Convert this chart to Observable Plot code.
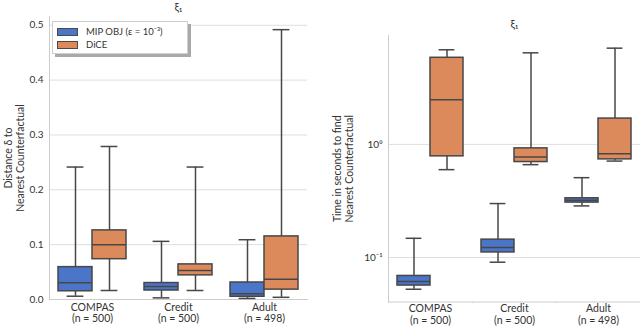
<!DOCTYPE html>
<html><head><meta charset="utf-8">
<script src="https://cdn.jsdelivr.net/npm/d3@7"></script>
<script src="https://cdn.jsdelivr.net/npm/@observablehq/plot@0.6"></script>
<style>
body{margin:0;background:#fff;}
#wrap{position:relative;width:640px;height:327px;font-family:Lato,"DejaVu Sans",sans-serif;overflow:hidden;}
.panel{position:absolute;top:0;}
#legend{position:absolute;left:52px;top:21px;width:134px;height:31px;background:#fff;border:1px solid #cfcfcf;box-shadow:3px 3px 0 #a9a9a9;font-size:9.5px;color:#333;}
#legend .row{position:absolute;left:4px;height:9px;display:flex;align-items:center;}
#legend .sw{width:19px;height:6px;border:1px solid #4a4a4a;margin-right:8px;}
</style></head><body>
<div id="wrap">
  <div id="left" class="panel" style="left:0"></div>
  <div id="right" class="panel" style="left:320px"></div>
  <div id="legend"></div>
</div>
<script>
// ---- data ----
const datasets = ["COMPAS", "Credit", "Adult"];
const nLabels = ["(n = 500)", "(n = 500)", "(n = 498)"];
const methods = ["MIP OBJ", "DiCE"];
const legendLabels = ["MIP OBJ (ε = 10⁻³)", "DiCE"];
const colors = ["#4a75c8", "#dc8a5b"];
const titles = ["ξ₁", "ξ₁"];
const yLabels = ["Distance δ to\nNearest Counterfactual", "Time in seconds to find\nNearest Counterfactual"];
const distTicks = [0, 0.1, 0.2, 0.3, 0.4, 0.5];
const timeTicks = [0.1, 1];
const timeTickLabels = ["10⁻¹", "10⁰"];

// box stats: [lower whisker, Q1, median, Q3, upper whisker], per dataset
const distMIP  = [[0.006, 0.015, 0.0305, 0.059, 0.2415], [0.003, 0.0164, 0.0237, 0.030, 0.106], [0.002, 0.005, 0.0104, 0.031, 0.109]];
const distDiCE = [[0.0164, 0.0735, 0.100, 0.126, 0.279], [0.0164, 0.044, 0.053, 0.064, 0.2415], [0.004, 0.018, 0.037, 0.115, 0.492]];
const timeMIP  = [[0.0525, 0.0566, 0.0614, 0.0688, 0.148], [0.091, 0.111, 0.1226, 0.144, 0.300], [0.286, 0.306, 0.321, 0.334, 0.508]];
const timeDiCE = [[0.598, 0.784, 2.48, 5.82, 6.85], [0.662, 0.698, 0.773, 0.922, 6.44], [0.712, 0.737, 0.828, 1.69, 7.08]];

function rowsOf(mip, dice) {
  const rows = [];
  datasets.forEach((d, i) => {
    [[methods[0], mip[i]], [methods[1], dice[i]]].forEach(([m, s]) => {
      rows.push({dataset: d, method: m, lo: s[0], q1: s[1], med: s[2], q3: s[3], hi: s[4]});
    });
  });
  return rows;
}

const edge = "#474747";
function panel(rows, opts) {
  const fxLabel = d => d + "\n" + nLabels[datasets.indexOf(d)];
  return Plot.plot({
    width: 320, height: 327,
    marginLeft: opts.ml, marginRight: opts.mr, marginTop: opts.mt, marginBottom: opts.mb,
    style: {fontFamily: "Lato, 'DejaVu Sans', sans-serif", fontSize: "10px", color: "#333", background: "transparent"},
    fx: {domain: datasets, padding: 0, label: null},
    x: {domain: methods, paddingInner: 0, paddingOuter: 0.25, axis: null},
    y: {type: opts.type, domain: opts.domain, label: null},
    color: {domain: methods, range: colors},
    marks: [
      Plot.gridY(opts.ticks, {stroke: "#dedede", strokeOpacity: 1, strokeWidth: 1}),
      Plot.axisY(opts.ticks, {tickSize: 0, tickPadding: 6, tickFormat: opts.fmt, label: null, fontSize: 10}),
      Plot.axisFx({anchor: "bottom", tickSize: 0, tickPadding: opts.tp, tickFormat: fxLabel, lineHeight: 1.1, fontSize: 10.5, label: null}),
      Plot.frame({anchor: "bottom", stroke: "#cccccc"}),
      Plot.frame({anchor: "left", stroke: "#cccccc", facetAnchor: "left"}),
      Plot.ruleX(rows, {fx: "dataset", x: "method", y1: "lo", y2: "q1", stroke: edge, strokeWidth: 1.5}),
      Plot.ruleX(rows, {fx: "dataset", x: "method", y1: "q3", y2: "hi", stroke: edge, strokeWidth: 1.5}),
      Plot.tickY(rows, {fx: "dataset", x: "method", y: "lo", stroke: edge, strokeWidth: 1.5, insetLeft: 8.6, insetRight: 8.6}),
      Plot.tickY(rows, {fx: "dataset", x: "method", y: "hi", stroke: edge, strokeWidth: 1.5, insetLeft: 8.6, insetRight: 8.6}),
      Plot.barY(rows, {fx: "dataset", x: "method", y1: "q1", y2: "q3", fill: "method", stroke: edge, strokeWidth: 1.5, inset: 0}),
      Plot.tickY(rows, {fx: "dataset", x: "method", y: "med", stroke: edge, strokeWidth: 1.5}),
      Plot.text([{fx: datasets[0], t: opts.ylabel}], {fx: "fx", text: "t", frameAnchor: "left", rotate: -90, textAnchor: "middle", lineAnchor: "middle", dx: opts.ldx, lineHeight: 1.15, fontSize: 10.5, fill: "#333"}),
      Plot.text([{fx: datasets[1], t: opts.title}], {fx: "fx", text: "t", frameAnchor: "top", lineAnchor: "middle", dy: opts.tdy, fontSize: 11, fill: "#333"})
    ]
  });
}

document.getElementById("left").append(panel(rowsOf(distMIP, distDiCE), {
  ml: 48, mr: 13, mt: 16, mb: 28, tp: 3, type: "linear", domain: [0, 0.516],
  ticks: distTicks, fmt: d3.format(".1f"), ylabel: yLabels[0], ldx: -35, title: titles[0], tdy: -9
}));
document.getElementById("right").append(panel(rowsOf(timeMIP, timeDiCE), {
  ml: 68, mr: 0, mt: 35, mb: 25.5, tp: 2, type: "log", domain: [0.0405, 9.16],
  ticks: timeTicks, fmt: d => timeTickLabels[timeTicks.indexOf(d)], ylabel: yLabels[1], ldx: -45, title: titles[1], tdy: -11
}));

// legend
const leg = document.getElementById("legend");
legendLabels.forEach((l, i) => {
  const r = document.createElement("div");
  r.className = "row";
  r.style.top = (5 + i * 13) + "px";
  const sw = document.createElement("div");
  sw.className = "sw";
  sw.style.background = colors[i];
  const t = document.createElement("span");
  t.textContent = l;
  r.append(sw, t);
  leg.append(r);
});
</script>
</body></html>
